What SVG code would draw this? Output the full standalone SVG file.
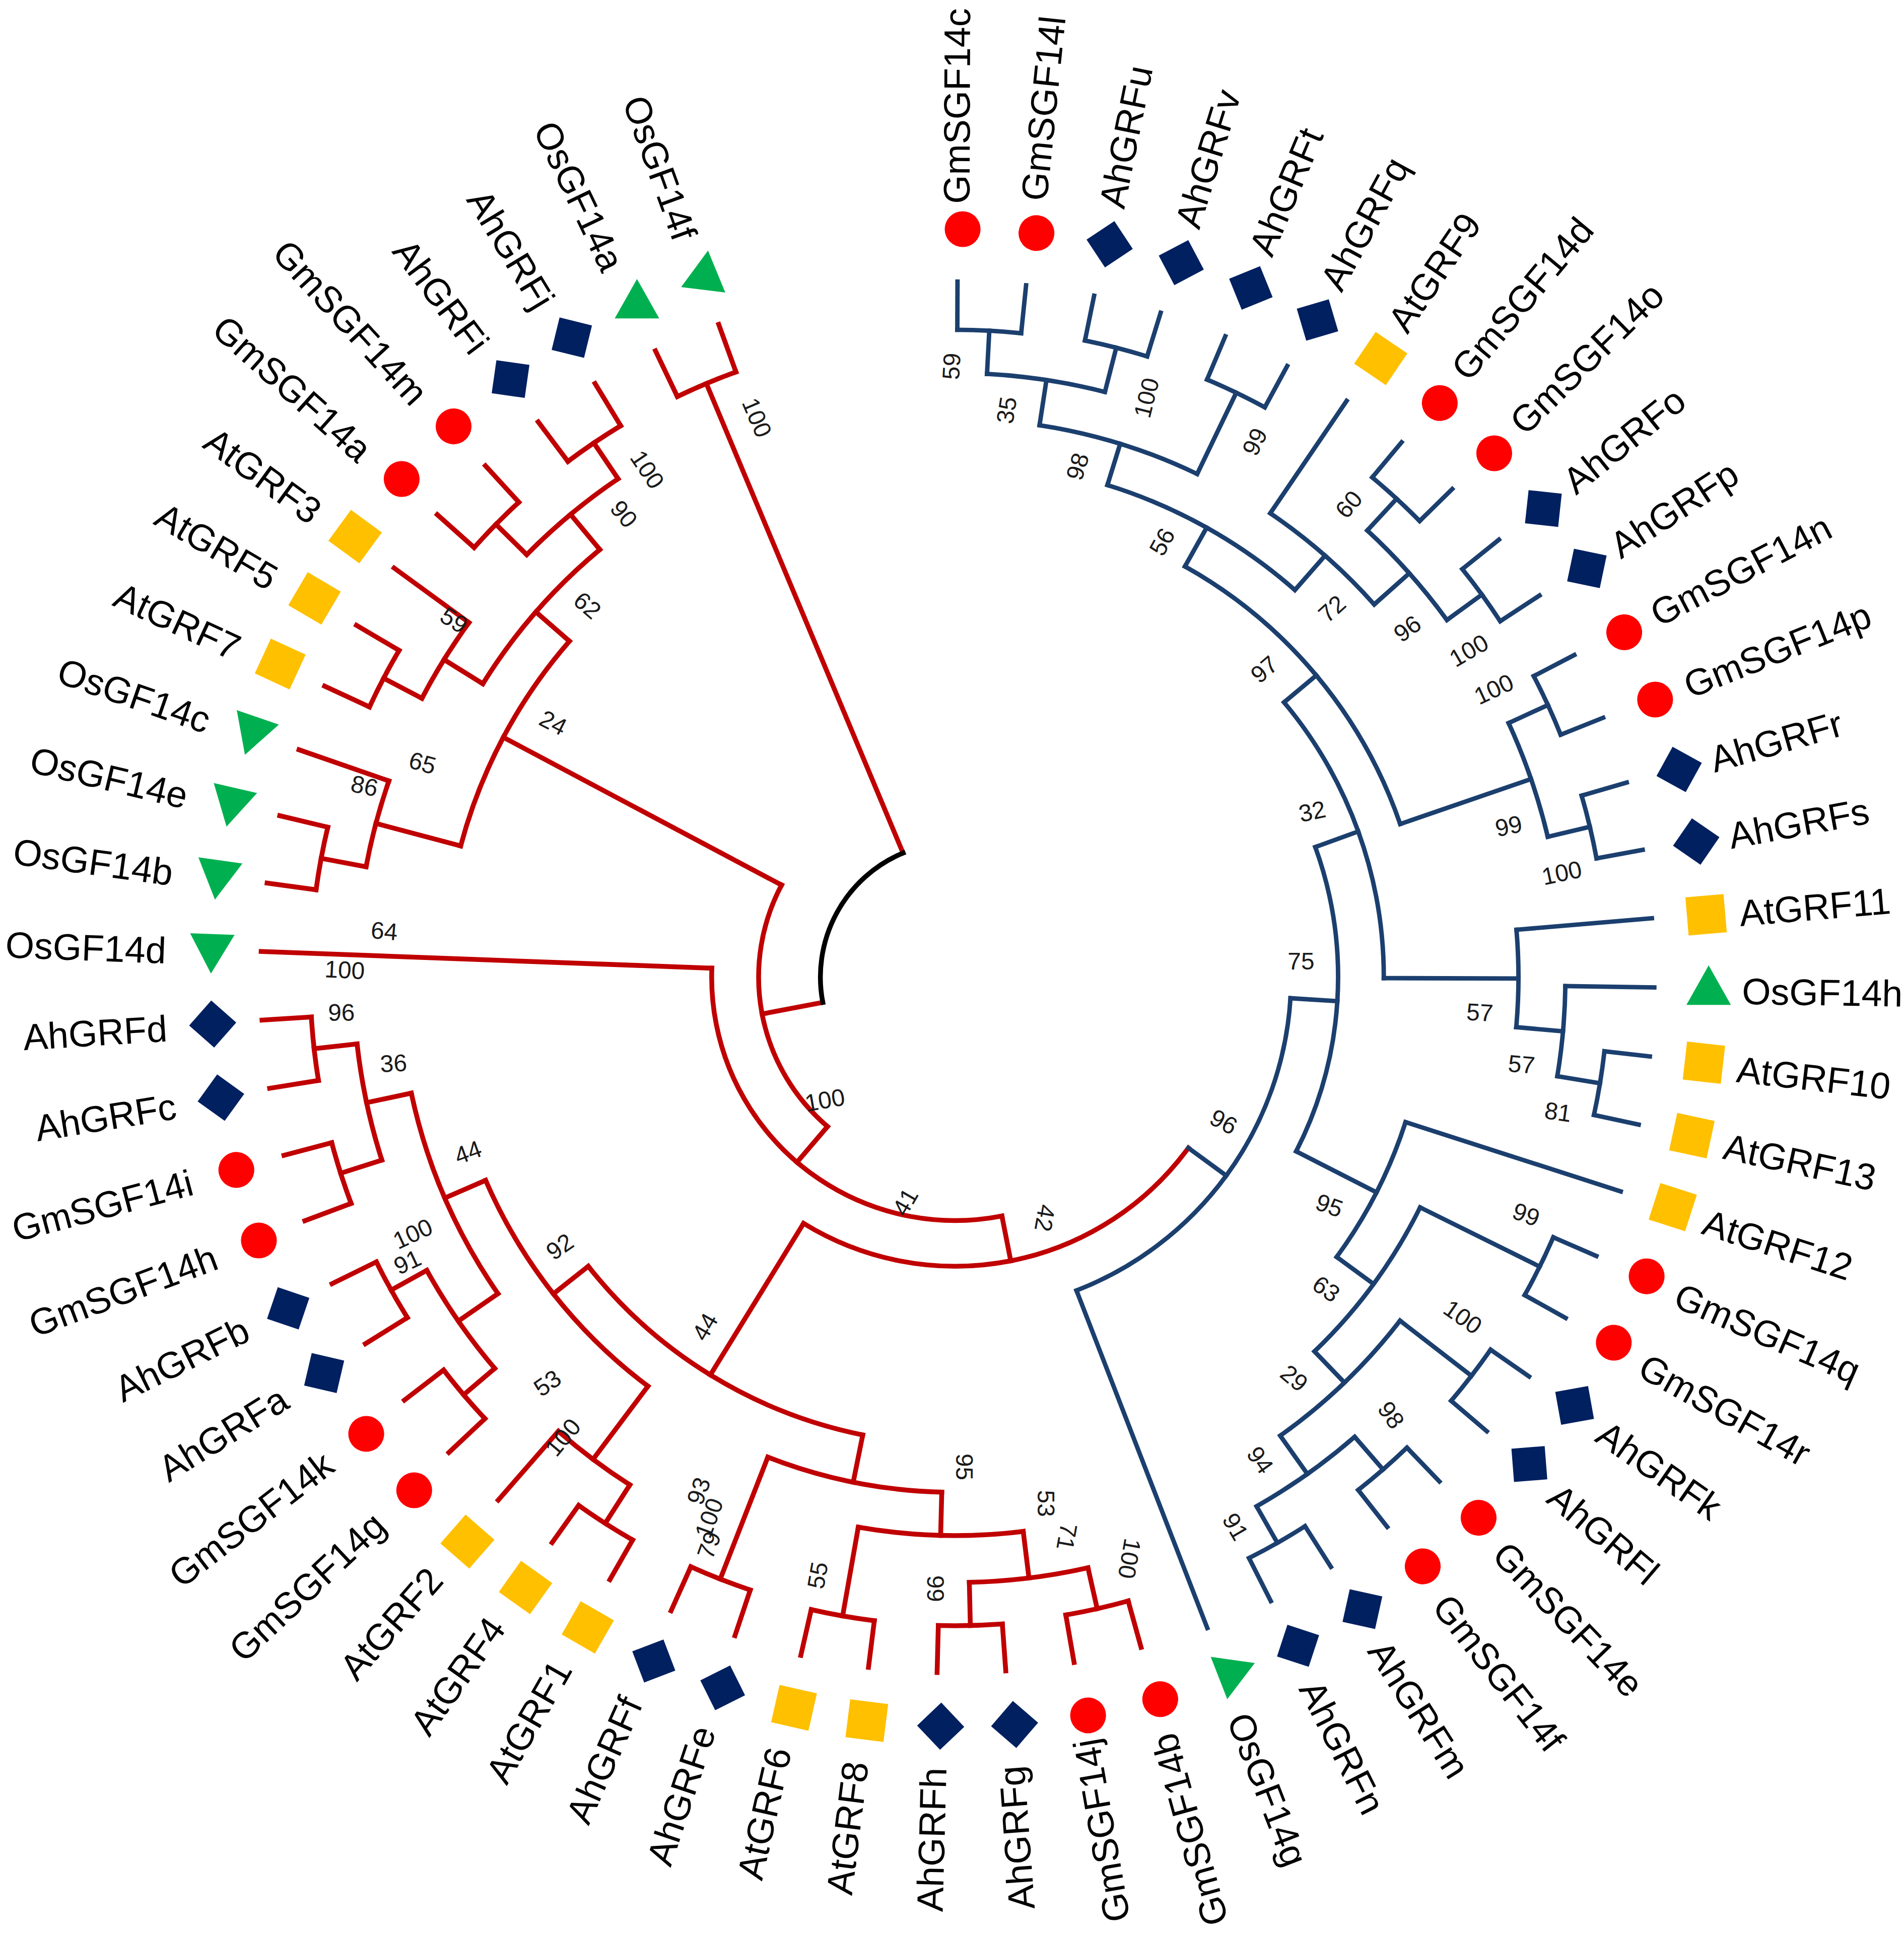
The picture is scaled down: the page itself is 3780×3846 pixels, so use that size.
<svg xmlns="http://www.w3.org/2000/svg" xmlns:xlink="http://www.w3.org/1999/xlink" width="3780" height="3846" viewBox="0 0 3780 3846">
<style>
.l{font-family:"Liberation Sans",Arial,sans-serif;font-size:30px;fill:#000}
.f{text-anchor:end}
.b text{font-family:"Liberation Sans",Arial,sans-serif;font-size:19.5px;fill:#1a1a1a;text-anchor:middle}
</style>
<defs>
<circle id="mGm" r="14.5" fill="#FF0000"/>
<rect id="mAt" x="-15.5" y="-15.5" width="31" height="31" fill="#FFC000"/>
<rect id="mAh" x="-13.5" y="-13.5" width="27" height="27" fill="#002060" transform="rotate(45)"/>
<polygon id="mUp" points="0,-19 -18,13 18,13" fill="#00B050"/>
<polygon id="mDn" points="0,19 -18,-13 18,-13" fill="#00B050"/>
</defs>
<rect width="3780" height="3846" fill="#fff"/>
<g transform="scale(2.4529)">
<g id="connectors" transform="translate(773,791)" fill="none" stroke-linecap="square">
<g id="clade-red" stroke="#C00000" stroke-width="3.9">
<line x1="109" x2="521" transform="rotate(247.27)"/>
<line x1="521" x2="562" transform="rotate(244.44)"/>
<line x1="521" x2="562" transform="rotate(250.1)"/>
<line x1="109" x2="159" transform="rotate(169.2)"/>
<line x1="159" x2="414" transform="rotate(207.97)"/>
<line x1="414" x2="485" transform="rotate(194.87)"/>
<line x1="485" x2="562" transform="rotate(199.12)"/>
<line x1="485" x2="522" transform="rotate(190.62)"/>
<line x1="522" x2="562" transform="rotate(187.79)"/>
<line x1="522" x2="562" transform="rotate(193.45)"/>
<line x1="414" x2="450" transform="rotate(221.07)"/>
<line x1="450" x2="487" transform="rotate(211.86)"/>
<line x1="487" x2="562" transform="rotate(216.11)"/>
<line x1="487" x2="522" transform="rotate(207.62)"/>
<line x1="522" x2="562" transform="rotate(204.78)"/>
<line x1="522" x2="562" transform="rotate(210.45)"/>
<line x1="450" x2="487" transform="rotate(230.28)"/>
<line x1="487" x2="522" transform="rotate(224.61)"/>
<line x1="522" x2="562" transform="rotate(221.78)"/>
<line x1="522" x2="562" transform="rotate(227.44)"/>
<line x1="487" x2="522" transform="rotate(235.94)"/>
<line x1="522" x2="562" transform="rotate(233.11)"/>
<line x1="522" x2="562" transform="rotate(238.77)"/>
<line x1="159" x2="197" transform="rotate(130.5)"/>
<line x1="197" x2="562" transform="rotate(182.12)"/>
<line x1="197" x2="234" transform="rotate(78.9)"/>
<line x1="234" x2="378" transform="rotate(121.6)"/>
<line x1="378" x2="414" transform="rotate(141.75)"/>
<line x1="414" x2="450" transform="rotate(156.6)"/>
<line x1="450" x2="487" transform="rotate(167.96)"/>
<line x1="487" x2="522" transform="rotate(173.63)"/>
<line x1="522" x2="562" transform="rotate(170.79)"/>
<line x1="522" x2="562" transform="rotate(176.46)"/>
<line x1="487" x2="522" transform="rotate(162.3)"/>
<line x1="522" x2="562" transform="rotate(159.46)"/>
<line x1="522" x2="562" transform="rotate(165.13)"/>
<line x1="450" x2="489" transform="rotate(145.3)"/>
<line x1="489" x2="522" transform="rotate(150.97)"/>
<line x1="522" x2="562" transform="rotate(148.13)"/>
<line x1="522" x2="562" transform="rotate(153.8)"/>
<line x1="489" x2="522" transform="rotate(139.64)"/>
<line x1="522" x2="562" transform="rotate(136.8)"/>
<line x1="522" x2="562" transform="rotate(142.47)"/>
<line x1="414" x2="488" transform="rotate(126.9)"/>
<line x1="488" x2="562" transform="rotate(131.14)"/>
<line x1="488" x2="525" transform="rotate(122.64)"/>
<line x1="525" x2="562" transform="rotate(119.81)"/>
<line x1="525" x2="562" transform="rotate(125.47)"/>
<line x1="378" x2="417" transform="rotate(101.4)"/>
<line x1="417" x2="523" transform="rotate(111.31)"/>
<line x1="523" x2="562" transform="rotate(108.48)"/>
<line x1="523" x2="562" transform="rotate(114.14)"/>
<line x1="417" x2="452" transform="rotate(91.48)"/>
<line x1="452" x2="525" transform="rotate(99.98)"/>
<line x1="525" x2="563" transform="rotate(97.15)"/>
<line x1="525" x2="563" transform="rotate(102.81)"/>
<line x1="452" x2="490" transform="rotate(82.99)"/>
<line x1="490" x2="525" transform="rotate(88.65)"/>
<line x1="525" x2="563" transform="rotate(85.82)"/>
<line x1="525" x2="563" transform="rotate(91.48)"/>
<line x1="490" x2="524" transform="rotate(77.32)"/>
<line x1="524" x2="563" transform="rotate(74.49)"/>
<line x1="524" x2="563" transform="rotate(80.15)"/>
<circle r="521" transform="rotate(244.44)" stroke-dasharray="51.47 4000"/>
<circle r="159" transform="rotate(130.5)" stroke-dasharray="214.99 4000"/>
<circle r="414" transform="rotate(194.87)" stroke-dasharray="189.31 4000"/>
<circle r="485" transform="rotate(190.62)" stroke-dasharray="71.95 4000"/>
<circle r="522" transform="rotate(187.79)" stroke-dasharray="51.57 4000"/>
<circle r="450" transform="rotate(211.86)" stroke-dasharray="144.67 4000"/>
<circle r="487" transform="rotate(207.62)" stroke-dasharray="72.16 4000"/>
<circle r="522" transform="rotate(204.78)" stroke-dasharray="51.66 4000"/>
<circle r="487" transform="rotate(224.61)" stroke-dasharray="96.30 4000"/>
<circle r="522" transform="rotate(221.78)" stroke-dasharray="51.57 4000"/>
<circle r="522" transform="rotate(233.11)" stroke-dasharray="51.57 4000"/>
<circle r="197" transform="rotate(78.9)" stroke-dasharray="354.90 4000"/>
<circle r="234" transform="rotate(36.2)" stroke-dasharray="348.78 4000"/>
<circle r="378" transform="rotate(101.4)" stroke-dasharray="266.20 4000"/>
<circle r="414" transform="rotate(126.9)" stroke-dasharray="214.60 4000"/>
<circle r="450" transform="rotate(145.3)" stroke-dasharray="177.97 4000"/>
<circle r="487" transform="rotate(162.3)" stroke-dasharray="96.30 4000"/>
<circle r="522" transform="rotate(170.79)" stroke-dasharray="51.66 4000"/>
<circle r="522" transform="rotate(159.46)" stroke-dasharray="51.66 4000"/>
<circle r="489" transform="rotate(139.64)" stroke-dasharray="96.70 4000"/>
<circle r="522" transform="rotate(148.13)" stroke-dasharray="51.66 4000"/>
<circle r="522" transform="rotate(136.8)" stroke-dasharray="51.66 4000"/>
<circle r="488" transform="rotate(122.64)" stroke-dasharray="72.39 4000"/>
<circle r="525" transform="rotate(119.81)" stroke-dasharray="51.86 4000"/>
<circle r="417" transform="rotate(91.48)" stroke-dasharray="144.32 4000"/>
<circle r="523" transform="rotate(108.48)" stroke-dasharray="51.67 4000"/>
<circle r="452" transform="rotate(82.99)" stroke-dasharray="134.03 4000"/>
<circle r="525" transform="rotate(97.15)" stroke-dasharray="51.86 4000"/>
<circle r="490" transform="rotate(77.32)" stroke-dasharray="96.90 4000"/>
<circle r="525" transform="rotate(85.82)" stroke-dasharray="51.86 4000"/>
<circle r="524" transform="rotate(74.49)" stroke-dasharray="51.76 4000"/>
</g>
<g id="clade-blue" stroke="#1B3F6E" stroke-width="3.6">
<line x1="234" x2="272" transform="rotate(36.2)"/>
<line x1="272" x2="565" transform="rotate(68.82)"/>
<line x1="272" x2="310" transform="rotate(3.59)"/>
<line x1="310" x2="347" transform="rotate(-19.87)"/>
<line x1="347" x2="381" transform="rotate(-39.88)"/>
<line x1="381" x2="417" transform="rotate(-60.77)"/>
<line x1="417" x2="452" transform="rotate(-72.8)"/>
<line x1="452" x2="489" transform="rotate(-81.3)"/>
<line x1="489" x2="524" transform="rotate(-86.97)"/>
<line x1="524" x2="563" transform="rotate(-89.8)"/>
<line x1="524" x2="563" transform="rotate(-84.14)"/>
<line x1="489" x2="526" transform="rotate(-75.64)"/>
<line x1="526" x2="563" transform="rotate(-78.47)"/>
<line x1="526" x2="563" transform="rotate(-72.81)"/>
<line x1="452" x2="525" transform="rotate(-64.31)"/>
<line x1="525" x2="563" transform="rotate(-67.14)"/>
<line x1="525" x2="563" transform="rotate(-61.48)"/>
<line x1="417" x2="454" transform="rotate(-48.73)"/>
<line x1="454" x2="564" transform="rotate(-55.81)"/>
<line x1="454" x2="492" transform="rotate(-41.65)"/>
<line x1="492" x2="527" transform="rotate(-47.3)"/>
<line x1="527" x2="564" transform="rotate(-50.15)"/>
<line x1="527" x2="564" transform="rotate(-44.48)"/>
<line x1="492" x2="527" transform="rotate(-35.99)"/>
<line x1="527" x2="565" transform="rotate(-38.82)"/>
<line x1="527" x2="565" transform="rotate(-33.15)"/>
<line x1="381" x2="493" transform="rotate(-18.99)"/>
<line x1="493" x2="528" transform="rotate(-24.66)"/>
<line x1="528" x2="565" transform="rotate(-27.49)"/>
<line x1="528" x2="565" transform="rotate(-21.82)"/>
<line x1="493" x2="528" transform="rotate(-13.33)"/>
<line x1="528" x2="566" transform="rotate(-16.16)"/>
<line x1="528" x2="566" transform="rotate(-10.49)"/>
<line x1="347" x2="456" transform="rotate(0.13)"/>
<line x1="456" x2="566" transform="rotate(-4.83)"/>
<line x1="456" x2="494" transform="rotate(5.09)"/>
<line x1="494" x2="566" transform="rotate(0.84)"/>
<line x1="494" x2="529" transform="rotate(9.34)"/>
<line x1="529" x2="566" transform="rotate(6.51)"/>
<line x1="529" x2="566" transform="rotate(12.17)"/>
<line x1="310" x2="383" transform="rotate(27.05)"/>
<line x1="383" x2="566" transform="rotate(17.84)"/>
<line x1="383" x2="420" transform="rotate(36.25)"/>
<line x1="420" x2="528" transform="rotate(26.34)"/>
<line x1="528" x2="566" transform="rotate(23.5)"/>
<line x1="528" x2="566" transform="rotate(29.17)"/>
<line x1="420" x2="455" transform="rotate(46.16)"/>
<line x1="455" x2="528" transform="rotate(37.67)"/>
<line x1="528" x2="566" transform="rotate(34.83)"/>
<line x1="528" x2="566" transform="rotate(40.5)"/>
<line x1="455" x2="493" transform="rotate(54.66)"/>
<line x1="493" x2="528" transform="rotate(49.0)"/>
<line x1="528" x2="566" transform="rotate(46.16)"/>
<line x1="528" x2="566" transform="rotate(51.83)"/>
<line x1="493" x2="527" transform="rotate(60.33)"/>
<line x1="527" x2="566" transform="rotate(57.49)"/>
<line x1="527" x2="566" transform="rotate(63.16)"/>
<circle r="272" transform="rotate(3.59)" stroke-dasharray="309.67 4000"/>
<circle r="310" transform="rotate(-19.87)" stroke-dasharray="253.86 4000"/>
<circle r="347" transform="rotate(-39.88)" stroke-dasharray="242.31 4000"/>
<circle r="381" transform="rotate(-60.77)" stroke-dasharray="277.82 4000"/>
<circle r="417" transform="rotate(-72.8)" stroke-dasharray="175.18 4000"/>
<circle r="452" transform="rotate(-81.3)" stroke-dasharray="134.03 4000"/>
<circle r="489" transform="rotate(-86.97)" stroke-dasharray="96.70 4000"/>
<circle r="524" transform="rotate(-89.8)" stroke-dasharray="51.76 4000"/>
<circle r="526" transform="rotate(-78.47)" stroke-dasharray="51.96 4000"/>
<circle r="525" transform="rotate(-67.14)" stroke-dasharray="51.86 4000"/>
<circle r="454" transform="rotate(-55.81)" stroke-dasharray="112.20 4000"/>
<circle r="492" transform="rotate(-47.3)" stroke-dasharray="97.12 4000"/>
<circle r="527" transform="rotate(-50.15)" stroke-dasharray="52.15 4000"/>
<circle r="527" transform="rotate(-38.82)" stroke-dasharray="52.15 4000"/>
<circle r="493" transform="rotate(-24.66)" stroke-dasharray="97.49 4000"/>
<circle r="528" transform="rotate(-27.49)" stroke-dasharray="52.25 4000"/>
<circle r="528" transform="rotate(-16.16)" stroke-dasharray="52.25 4000"/>
<circle r="456" transform="rotate(-4.83)" stroke-dasharray="78.95 4000"/>
<circle r="494" transform="rotate(0.84)" stroke-dasharray="73.29 4000"/>
<circle r="529" transform="rotate(6.51)" stroke-dasharray="52.26 4000"/>
<circle r="383" transform="rotate(17.84)" stroke-dasharray="123.06 4000"/>
<circle r="420" transform="rotate(26.34)" stroke-dasharray="145.29 4000"/>
<circle r="528" transform="rotate(23.5)" stroke-dasharray="52.25 4000"/>
<circle r="455" transform="rotate(37.67)" stroke-dasharray="134.92 4000"/>
<circle r="528" transform="rotate(34.83)" stroke-dasharray="52.25 4000"/>
<circle r="493" transform="rotate(49.0)" stroke-dasharray="97.49 4000"/>
<circle r="528" transform="rotate(46.16)" stroke-dasharray="52.25 4000"/>
<circle r="527" transform="rotate(57.49)" stroke-dasharray="52.15 4000"/>
</g>
<circle id="root" r="109" transform="rotate(169.2)" stroke="#000" stroke-width="3.9" stroke-dasharray="148.52 4000"/>
</g>
<g id="leaves">
<g id="leaf-GmSGF14c"><use xlink:href="#mGm" transform="translate(777,791.5) rotate(-89.8) translate(606,0)"/><text class="l" transform="translate(772,793) rotate(-89.8) translate(628,0)" dy="0.35em">GmSGF14c</text></g>
<g id="leaf-GmSGF14l"><use xlink:href="#mGm" transform="translate(777,791.5) rotate(-84.14) translate(606,0)"/><text class="l" transform="translate(772,793) rotate(-84.14) translate(634,0)" dy="0.35em">GmSGF14l</text></g>
<g id="leaf-AhGRFu"><use xlink:href="#mAh" transform="translate(777,791.5) rotate(-78.47) translate(606,0)"/><text class="l" transform="translate(772,793) rotate(-78.47) translate(638,0)" dy="0.35em">AhGRFu</text></g>
<g id="leaf-AhGRFv"><use xlink:href="#mAh" transform="translate(777,791.5) rotate(-72.81) translate(606,0)"/><text class="l" transform="translate(772,793) rotate(-72.81) translate(638,0)" dy="0.35em">AhGRFv</text></g>
<g id="leaf-AhGRFt"><use xlink:href="#mAh" transform="translate(777,791.5) rotate(-67.14) translate(606,0)"/><text class="l" transform="translate(772,793) rotate(-67.14) translate(638,0)" dy="0.35em">AhGRFt</text></g>
<g id="leaf-AhGRFq"><use xlink:href="#mAh" transform="translate(777,791.5) rotate(-61.48) translate(606,0)"/><text class="l" transform="translate(772,793) rotate(-61.48) translate(638,0)" dy="0.35em">AhGRFq</text></g>
<g id="leaf-AtGRF9"><use xlink:href="#mAt" transform="translate(777,791.5) rotate(-55.81) translate(606,0)"/><text class="l" transform="translate(772,793) rotate(-55.81) translate(638,0)" dy="0.35em">AtGRF9</text></g>
<g id="leaf-GmSGF14d"><use xlink:href="#mGm" transform="translate(777,791.5) rotate(-50.15) translate(606,0)"/><text class="l" transform="translate(772,793) rotate(-50.15) translate(638,0)" dy="0.35em">GmSGF14d</text></g>
<g id="leaf-GmSGF14o"><use xlink:href="#mGm" transform="translate(777,791.5) rotate(-44.48) translate(606,0)"/><text class="l" transform="translate(772,793) rotate(-44.48) translate(638,0)" dy="0.35em">GmSGF14o</text></g>
<g id="leaf-AhGRFo"><use xlink:href="#mAh" transform="translate(777,791.5) rotate(-38.82) translate(606,0)"/><text class="l" transform="translate(772,793) rotate(-38.82) translate(638,0)" dy="0.35em">AhGRFo</text></g>
<g id="leaf-AhGRFp"><use xlink:href="#mAh" transform="translate(777,791.5) rotate(-33.15) translate(606,0)"/><text class="l" transform="translate(772,793) rotate(-33.15) translate(638,0)" dy="0.35em">AhGRFp</text></g>
<g id="leaf-GmSGF14n"><use xlink:href="#mGm" transform="translate(777,791.5) rotate(-27.49) translate(606,0)"/><text class="l" transform="translate(772,793) rotate(-27.49) translate(638,0)" dy="0.35em">GmSGF14n</text></g>
<g id="leaf-GmSGF14p"><use xlink:href="#mGm" transform="translate(777,791.5) rotate(-21.82) translate(606,0)"/><text class="l" transform="translate(772,793) rotate(-21.82) translate(638,0)" dy="0.35em">GmSGF14p</text></g>
<g id="leaf-AhGRFr"><use xlink:href="#mAh" transform="translate(777,791.5) rotate(-16.16) translate(606,0)"/><text class="l" transform="translate(772,793) rotate(-16.16) translate(638,0)" dy="0.35em">AhGRFr</text></g>
<g id="leaf-AhGRFs"><use xlink:href="#mAh" transform="translate(777,791.5) rotate(-10.49) translate(606,0)"/><text class="l" transform="translate(772,793) rotate(-10.49) translate(638,0)" dy="0.35em">AhGRFs</text></g>
<g id="leaf-AtGRF11"><use xlink:href="#mAt" transform="translate(777,791.5) rotate(-4.83) translate(606,0)"/><text class="l" transform="translate(772,793) rotate(-4.83) translate(638,0)" dy="0.35em">AtGRF11</text></g>
<g id="leaf-OsGF14h"><use xlink:href="#mUp" transform="translate(777,791.5) rotate(0.84) translate(606,0) rotate(-0.84)"/><text class="l" transform="translate(772,793) rotate(0.84) translate(638,0)" dy="0.35em">OsGF14h</text></g>
<g id="leaf-AtGRF10"><use xlink:href="#mAt" transform="translate(777,791.5) rotate(6.51) translate(606,0)"/><text class="l" transform="translate(772,793) rotate(6.51) translate(638,0)" dy="0.35em">AtGRF10</text></g>
<g id="leaf-AtGRF13"><use xlink:href="#mAt" transform="translate(777,791.5) rotate(12.17) translate(606,0)"/><text class="l" transform="translate(772,793) rotate(12.17) translate(638,0)" dy="0.35em">AtGRF13</text></g>
<g id="leaf-AtGRF12"><use xlink:href="#mAt" transform="translate(777,791.5) rotate(17.84) translate(606,0)"/><text class="l" transform="translate(772,793) rotate(17.84) translate(638,0)" dy="0.35em">AtGRF12</text></g>
<g id="leaf-GmSGF14q"><use xlink:href="#mGm" transform="translate(777,791.5) rotate(23.5) translate(606,0)"/><text class="l" transform="translate(772,793) rotate(23.5) translate(638,0)" dy="0.35em">GmSGF14q</text></g>
<g id="leaf-GmSGF14r"><use xlink:href="#mGm" transform="translate(777,791.5) rotate(29.17) translate(606,0)"/><text class="l" transform="translate(772,793) rotate(29.17) translate(638,0)" dy="0.35em">GmSGF14r</text></g>
<g id="leaf-AhGRFk"><use xlink:href="#mAh" transform="translate(777,791.5) rotate(34.83) translate(606,0)"/><text class="l" transform="translate(772,793) rotate(34.83) translate(638,0)" dy="0.35em">AhGRFk</text></g>
<g id="leaf-AhGRFl"><use xlink:href="#mAh" transform="translate(777,791.5) rotate(40.5) translate(606,0)"/><text class="l" transform="translate(772,793) rotate(40.5) translate(638,0)" dy="0.35em">AhGRFl</text></g>
<g id="leaf-GmSGF14e"><use xlink:href="#mGm" transform="translate(777,791.5) rotate(46.16) translate(606,0)"/><text class="l" transform="translate(772,793) rotate(46.16) translate(638,0)" dy="0.35em">GmSGF14e</text></g>
<g id="leaf-GmSGF14f"><use xlink:href="#mGm" transform="translate(777,791.5) rotate(51.83) translate(606,0)"/><text class="l" transform="translate(772,793) rotate(51.83) translate(638,0)" dy="0.35em">GmSGF14f</text></g>
<g id="leaf-AhGRFm"><use xlink:href="#mAh" transform="translate(777,791.5) rotate(57.49) translate(606,0)"/><text class="l" transform="translate(772,793) rotate(57.49) translate(638,0)" dy="0.35em">AhGRFm</text></g>
<g id="leaf-AhGRFn"><use xlink:href="#mAh" transform="translate(777,791.5) rotate(63.16) translate(606,0)"/><text class="l" transform="translate(772,793) rotate(63.16) translate(638,0)" dy="0.35em">AhGRFn</text></g>
<g id="leaf-OsGF14g"><use xlink:href="#mDn" transform="translate(777,791.5) rotate(68.82) translate(606,0) rotate(-60.82)"/><text class="l" transform="translate(772,793) rotate(68.82) translate(638,0)" dy="0.35em">OsGF14g</text></g>
<g id="leaf-GmSGF14b"><use xlink:href="#mGm" transform="translate(777,791.5) rotate(74.49) translate(606,0)"/><text class="l f" transform="translate(772,793) rotate(74.49) translate(634,0) rotate(180)" dy="0.35em">GmSGF14b</text></g>
<g id="leaf-GmSGF14j"><use xlink:href="#mGm" transform="translate(777,791.5) rotate(80.15) translate(606,0)"/><text class="l f" transform="translate(772,793) rotate(80.15) translate(624,0) rotate(180)" dy="0.35em">GmSGF14j</text></g>
<g id="leaf-AhGRFg"><use xlink:href="#mAh" transform="translate(777,791.5) rotate(85.82) translate(606,0)"/><text class="l f" transform="translate(772,793) rotate(85.82) translate(638,0) rotate(180)" dy="0.35em">AhGRFg</text></g>
<g id="leaf-AhGRFh"><use xlink:href="#mAh" transform="translate(777,791.5) rotate(91.48) translate(606,0)"/><text class="l f" transform="translate(772,793) rotate(91.48) translate(638,0) rotate(180)" dy="0.35em">AhGRFh</text></g>
<g id="leaf-AtGRF8"><use xlink:href="#mAt" transform="translate(777,791.5) rotate(97.15) translate(606,0)"/><text class="l f" transform="translate(772,793) rotate(97.15) translate(638,0) rotate(180)" dy="0.35em">AtGRF8</text></g>
<g id="leaf-AtGRF6"><use xlink:href="#mAt" transform="translate(777,791.5) rotate(102.81) translate(606,0)"/><text class="l f" transform="translate(772,793) rotate(102.81) translate(638,0) rotate(180)" dy="0.35em">AtGRF6</text></g>
<g id="leaf-AhGRFe"><use xlink:href="#mAh" transform="translate(777,791.5) rotate(108.48) translate(606,0)"/><text class="l f" transform="translate(772,793) rotate(108.48) translate(638,0) rotate(180)" dy="0.35em">AhGRFe</text></g>
<g id="leaf-AhGRFf"><use xlink:href="#mAh" transform="translate(777,791.5) rotate(114.14) translate(606,0)"/><text class="l f" transform="translate(772,793) rotate(114.14) translate(638,0) rotate(180)" dy="0.35em">AhGRFf</text></g>
<g id="leaf-AtGRF1"><use xlink:href="#mAt" transform="translate(777,791.5) rotate(119.81) translate(606,0)"/><text class="l f" transform="translate(772,793) rotate(119.81) translate(638,0) rotate(180)" dy="0.35em">AtGRF1</text></g>
<g id="leaf-AtGRF4"><use xlink:href="#mAt" transform="translate(777,791.5) rotate(125.47) translate(606,0)"/><text class="l f" transform="translate(772,793) rotate(125.47) translate(638,0) rotate(180)" dy="0.35em">AtGRF4</text></g>
<g id="leaf-AtGRF2"><use xlink:href="#mAt" transform="translate(777,791.5) rotate(131.14) translate(606,0)"/><text class="l f" transform="translate(772,793) rotate(131.14) translate(638,0) rotate(180)" dy="0.35em">AtGRF2</text></g>
<g id="leaf-GmSGF14g"><use xlink:href="#mGm" transform="translate(777,791.5) rotate(136.8) translate(606,0)"/><text class="l f" transform="translate(772,793) rotate(136.8) translate(638,0) rotate(180)" dy="0.35em">GmSGF14g</text></g>
<g id="leaf-GmSGF14k"><use xlink:href="#mGm" transform="translate(777,791.5) rotate(142.47) translate(606,0)"/><text class="l f" transform="translate(772,793) rotate(142.47) translate(638,0) rotate(180)" dy="0.35em">GmSGF14k</text></g>
<g id="leaf-AhGRFa"><use xlink:href="#mAh" transform="translate(777,791.5) rotate(148.13) translate(606,0)"/><text class="l f" transform="translate(772,793) rotate(148.13) translate(638,0) rotate(180)" dy="0.35em">AhGRFa</text></g>
<g id="leaf-AhGRFb"><use xlink:href="#mAh" transform="translate(777,791.5) rotate(153.8) translate(606,0)"/><text class="l f" transform="translate(772,793) rotate(153.8) translate(638,0) rotate(180)" dy="0.35em">AhGRFb</text></g>
<g id="leaf-GmSGF14h"><use xlink:href="#mGm" transform="translate(777,791.5) rotate(159.46) translate(606,0)"/><text class="l f" transform="translate(772,793) rotate(159.46) translate(638,0) rotate(180)" dy="0.35em">GmSGF14h</text></g>
<g id="leaf-GmSGF14i"><use xlink:href="#mGm" transform="translate(777,791.5) rotate(165.13) translate(606,0)"/><text class="l f" transform="translate(772,793) rotate(165.13) translate(638,0) rotate(180)" dy="0.35em">GmSGF14i</text></g>
<g id="leaf-AhGRFc"><use xlink:href="#mAh" transform="translate(777,791.5) rotate(170.79) translate(606,0)"/><text class="l f" transform="translate(772,793) rotate(170.79) translate(638,0) rotate(180)" dy="0.35em">AhGRFc</text></g>
<g id="leaf-AhGRFd"><use xlink:href="#mAh" transform="translate(777,791.5) rotate(176.46) translate(606,0)"/><text class="l f" transform="translate(772,793) rotate(176.46) translate(638,0) rotate(180)" dy="0.35em">AhGRFd</text></g>
<g id="leaf-OsGF14d"><use xlink:href="#mDn" transform="translate(777,791.5) rotate(182.12) translate(606,0) rotate(-180.12)"/><text class="l f" transform="translate(772,793) rotate(182.12) translate(638,0) rotate(180)" dy="0.35em">OsGF14d</text></g>
<g id="leaf-OsGF14b"><use xlink:href="#mDn" transform="translate(777,791.5) rotate(187.79) translate(606,0) rotate(-179.79)"/><text class="l f" transform="translate(772,793) rotate(187.79) translate(638,0) rotate(180)" dy="0.35em">OsGF14b</text></g>
<g id="leaf-OsGF14e"><use xlink:href="#mDn" transform="translate(777,791.5) rotate(193.45) translate(606,0) rotate(-180.45)"/><text class="l f" transform="translate(772,793) rotate(193.45) translate(638,0) rotate(180)" dy="0.35em">OsGF14e</text></g>
<g id="leaf-OsGF14c"><use xlink:href="#mDn" transform="translate(777,791.5) rotate(199.12) translate(606,0) rotate(-180.12)"/><text class="l f" transform="translate(772,793) rotate(199.12) translate(638,0) rotate(180)" dy="0.35em">OsGF14c</text></g>
<g id="leaf-AtGRF7"><use xlink:href="#mAt" transform="translate(777,791.5) rotate(204.78) translate(606,0)"/><text class="l f" transform="translate(772,793) rotate(204.78) translate(638,0) rotate(180)" dy="0.35em">AtGRF7</text></g>
<g id="leaf-AtGRF5"><use xlink:href="#mAt" transform="translate(777,791.5) rotate(210.45) translate(606,0)"/><text class="l f" transform="translate(772,793) rotate(210.45) translate(638,0) rotate(180)" dy="0.35em">AtGRF5</text></g>
<g id="leaf-AtGRF3"><use xlink:href="#mAt" transform="translate(777,791.5) rotate(216.11) translate(606,0)"/><text class="l f" transform="translate(772,793) rotate(216.11) translate(638,0) rotate(180)" dy="0.35em">AtGRF3</text></g>
<g id="leaf-GmSGF14a"><use xlink:href="#mGm" transform="translate(777,791.5) rotate(221.78) translate(606,0)"/><text class="l f" transform="translate(772,793) rotate(221.78) translate(638,0) rotate(180)" dy="0.35em">GmSGF14a</text></g>
<g id="leaf-GmSGF14m"><use xlink:href="#mGm" transform="translate(777,791.5) rotate(227.44) translate(606,0)"/><text class="l f" transform="translate(772,793) rotate(227.44) translate(638,0) rotate(180)" dy="0.35em">GmSGF14m</text></g>
<g id="leaf-AhGRFi"><use xlink:href="#mAh" transform="translate(777,791.5) rotate(233.11) translate(606,0)"/><text class="l f" transform="translate(772,793) rotate(233.11) translate(638,0) rotate(180)" dy="0.35em">AhGRFi</text></g>
<g id="leaf-AhGRFj"><use xlink:href="#mAh" transform="translate(777,791.5) rotate(238.77) translate(606,0)"/><text class="l f" transform="translate(772,793) rotate(238.77) translate(638,0) rotate(180)" dy="0.35em">AhGRFj</text></g>
<g id="leaf-OsGF14a"><use xlink:href="#mUp" transform="translate(777,791.5) rotate(244.44) translate(606,0) rotate(-244.44)"/><text class="l f" transform="translate(772,793) rotate(244.44) translate(638,0) rotate(180)" dy="0.35em">OsGF14a</text></g>
<g id="leaf-OsGF14f"><use xlink:href="#mUp" transform="translate(777,791.5) rotate(250.1) translate(606,0) rotate(-243.1)"/><text class="l f" transform="translate(772,793) rotate(250.1) translate(638,0) rotate(180)" dy="0.35em">OsGF14f</text></g>
</g>
<g id="bootstrap" class="b">
<text transform="translate(612.7,338) rotate(67)" dy="0.35em">100</text>
<text transform="translate(524,380) rotate(56)" dy="0.35em">100</text>
<text transform="translate(505,416) rotate(50)" dy="0.35em">90</text>
<text transform="translate(475.5,490) rotate(41)" dy="0.35em">62</text>
<text transform="translate(367.5,502) rotate(32)" dy="0.35em">59</text>
<text transform="translate(447.8,585) rotate(27)" dy="0.35em">24</text>
<text transform="translate(342,617.5) rotate(16)" dy="0.35em">65</text>
<text transform="translate(295,636) rotate(12)" dy="0.35em">86</text>
<text transform="translate(311,753.5) rotate(5)" dy="0.35em">64</text>
<text transform="translate(279,785) rotate(3)" dy="0.35em">100</text>
<text transform="translate(276.3,819.4)" dy="0.35em">96</text>
<text transform="translate(318.5,860.6) rotate(-3)" dy="0.35em">36</text>
<text transform="translate(378.7,932.7) rotate(-20)" dy="0.35em">44</text>
<text transform="translate(453,1009) rotate(-35)" dy="0.35em">92</text>
<text transform="translate(334,998.6) rotate(-25)" dy="0.35em">100</text>
<text transform="translate(329.7,1021.5) rotate(-25)" dy="0.35em">91</text>
<text transform="translate(443,1119.5) rotate(-35)" dy="0.35em">53</text>
<text transform="translate(455.5,1163.4) rotate(-50)" dy="0.35em">100</text>
<text transform="translate(570.5,1074) rotate(-60)" dy="0.35em">44</text>
<text transform="translate(565.4,1206.8) rotate(-70)" dy="0.35em">93</text>
<text transform="translate(573.8,1228.8) rotate(-70)" dy="0.35em">100</text>
<text transform="translate(573.8,1250.7) rotate(-70)" dy="0.35em">79</text>
<text transform="translate(661.7,1275.2) rotate(-80)" dy="0.35em">55</text>
<text transform="translate(757,1286) rotate(-90)" dy="0.35em">66</text>
<text transform="translate(780.8,1187.4) rotate(90)" dy="0.35em">95</text>
<text transform="translate(846.7,1217) rotate(90)" dy="0.35em">53</text>
<text transform="translate(863.6,1244) rotate(100)" dy="0.35em">71</text>
<text transform="translate(914.3,1261.7) rotate(100)" dy="0.35em">100</text>
<text transform="translate(732.6,972.9) rotate(-60)" dy="0.35em">41</text>
<text transform="translate(845.8,986) rotate(100)" dy="0.35em">42</text>
<text transform="translate(667.6,890.4) rotate(-10)" dy="0.35em">100</text>
<text transform="translate(990.4,908) rotate(28)" dy="0.35em">96</text>
<text transform="translate(770,296.5) rotate(-87)" dy="0.35em">59</text>
<text transform="translate(814.6,332) rotate(-81)" dy="0.35em">35</text>
<text transform="translate(927.8,322) rotate(-76)" dy="0.35em">100</text>
<text transform="translate(872,377.6) rotate(-73)" dy="0.35em">98</text>
<text transform="translate(1015.5,357.5) rotate(-64)" dy="0.35em">99</text>
<text transform="translate(940.5,438.5) rotate(-61)" dy="0.35em">56</text>
<text transform="translate(1091.6,408.2) rotate(-50)" dy="0.35em">60</text>
<text transform="translate(1078,492.7) rotate(-42)" dy="0.35em">72</text>
<text transform="translate(1139,508.8) rotate(-36)" dy="0.35em">96</text>
<text transform="translate(1188.8,526.5) rotate(-30)" dy="0.35em">100</text>
<text transform="translate(1209,557.8) rotate(-25)" dy="0.35em">100</text>
<text transform="translate(1023.2,541.8) rotate(-40)" dy="0.35em">97</text>
<text transform="translate(1062,656.7) rotate(-12)" dy="0.35em">32</text>
<text transform="translate(1221,668.5) rotate(-12)" dy="0.35em">99</text>
<text transform="translate(1264,706.5) rotate(-12)" dy="0.35em">100</text>
<text transform="translate(1053,778)" dy="0.35em">75</text>
<text transform="translate(1197.7,819.4) rotate(3)" dy="0.35em">57</text>
<text transform="translate(1231.5,861.5) rotate(5)" dy="0.35em">57</text>
<text transform="translate(1261,900) rotate(8)" dy="0.35em">81</text>
<text transform="translate(1076,975.7) rotate(20)" dy="0.35em">95</text>
<text transform="translate(1073.5,1043.3) rotate(35)" dy="0.35em">63</text>
<text transform="translate(1047.5,1115.5) rotate(40)" dy="0.35em">29</text>
<text transform="translate(1235.3,983) rotate(20)" dy="0.35em">99</text>
<text transform="translate(1184,1066) rotate(35)" dy="0.35em">100</text>
<text transform="translate(1126,1145.3) rotate(55)" dy="0.35em">98</text>
<text transform="translate(1020,1181.8) rotate(55)" dy="0.35em">94</text>
<text transform="translate(1000,1235.7) rotate(60)" dy="0.35em">91</text>
</g>
</g>
</svg>
